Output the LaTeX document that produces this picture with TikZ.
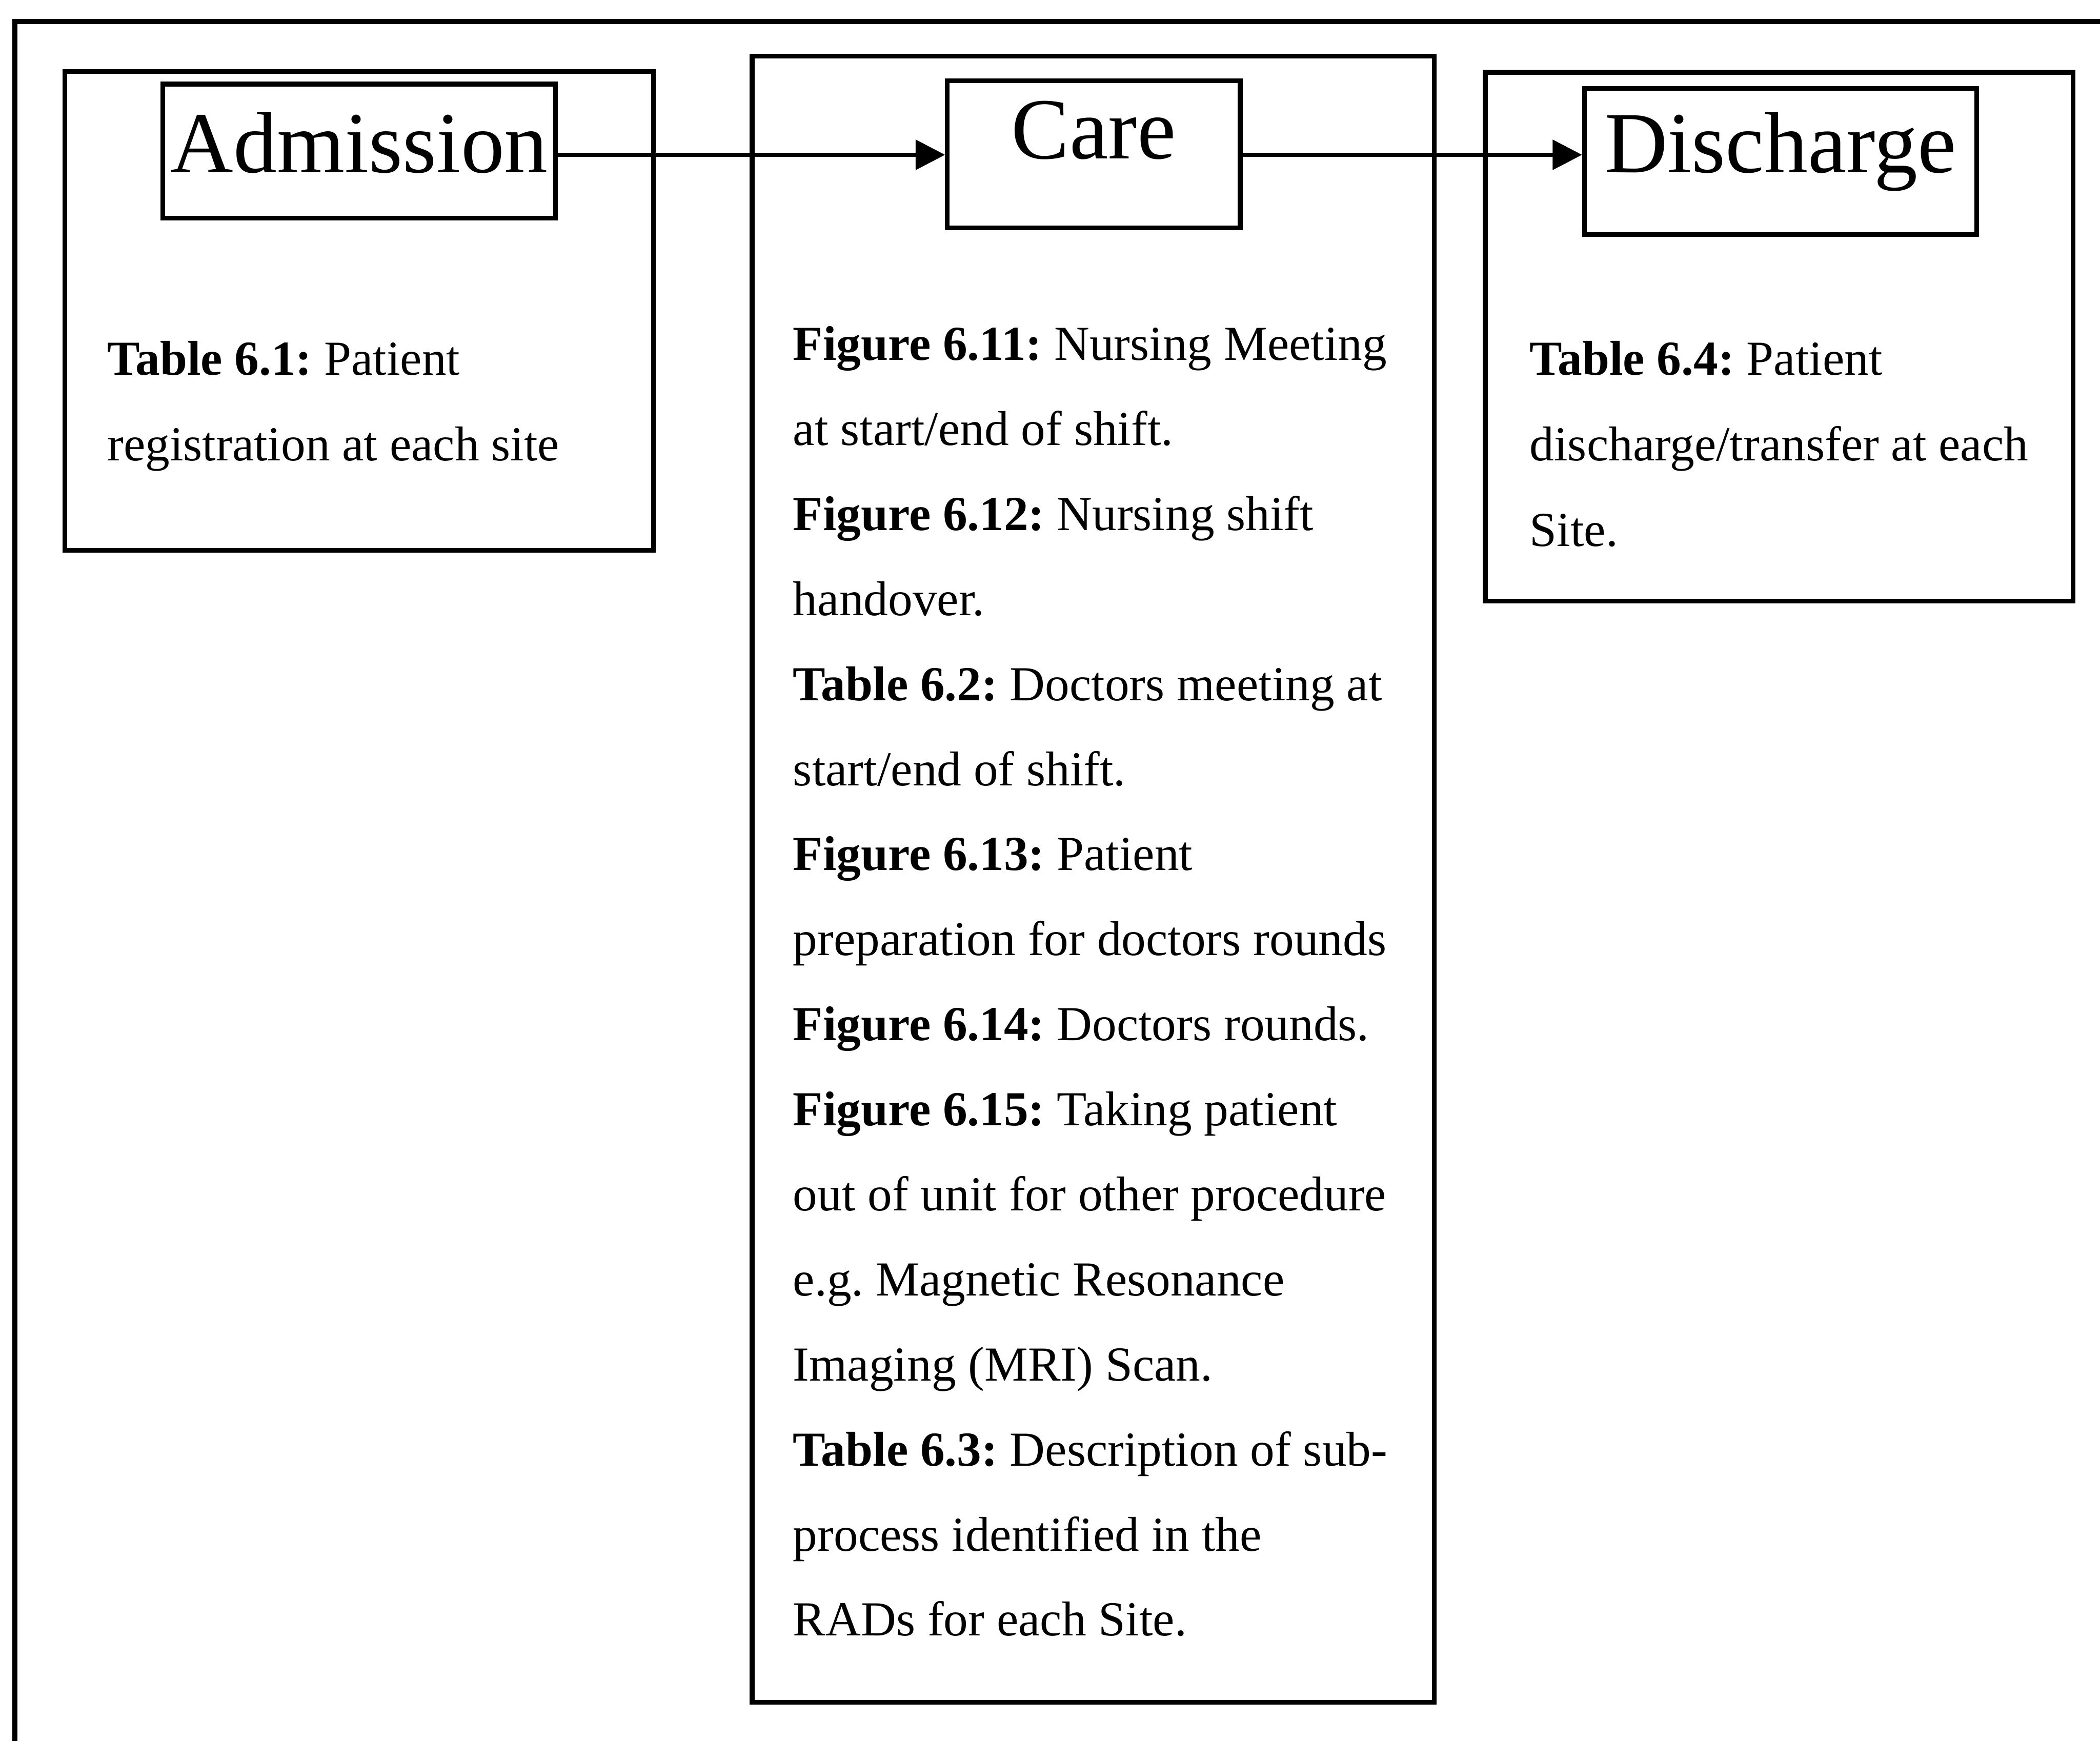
\documentclass[tikz,border=0pt]{standalone}
\usepackage{fontspec}
\setmainfont{Liberation Serif}
\usetikzlibrary{arrows.meta}
\frenchspacing
\begin{document}
\begin{tikzpicture}[x=1pt,y=-1pt,
  frame/.style={line width=4pt, line cap=rect},
  panel/.style={draw, rectangle, line width=3.5pt, inner sep=0pt},
  stagebox/.style={draw, rectangle, line width=3.5pt, inner sep=0pt},
  heading/.style={font=\fontsize{65}{78}\selectfont, inner sep=0pt, anchor=base},
  entry/.style={font=\fontsize{36.5}{44}\selectfont\frenchspacing, inner sep=0pt, anchor=base west},
  flow/.style={line width=3pt, -{Triangle[length=22pt,width=22pt]}}]

\useasboundingbox (0,0) rectangle (1568,1300);

% open outer frame (top and left edges)
\draw[frame] (1568,16) -- (11,16) -- (11,1300);

% the three stage panels
\node[panel, minimum width=439.6pt, minimum height=357.7pt] (admpanel) at (268.2,232.15) {};
\node[panel, minimum width=509.4pt, minimum height=1229pt] (carepanel) at (816.3,656.5) {};
\node[panel, minimum width=439pt, minimum height=395pt] (dispanel) at (1328.5,251.5) {};

% stage title boxes
\node[stagebox, minimum width=293.1pt, minimum height=100.2pt] (adm) at (268.25,112.9) {};
\node[stagebox, minimum width=218.6pt, minimum height=110pt] (care) at (816.7,115.3) {};
\node[stagebox, minimum width=293pt, minimum height=109pt] (dis) at (1329.5,120.5) {};

\node[heading] (admtitle) at (268.3,128.7) {Admission};
\node[heading] (caretitle) at (816.6,118.5) {Care};
\node[heading] (distitle) at (1329.4,129) {Discharge};

% flow between the stages
\coordinate (lane) at (0,115.6);
\draw[flow] (adm.east |- lane) -- (care.west |- lane);
\draw[flow] (care.east |- lane) -- (dis.west |- lane);

% admission references
\node[entry] (a1) at (80,280) {\textbf{Table 6.1:} Patient};
\node[entry] (a2) at (80,344) {registration at each site};

% care references
\node[entry] (c1) at (592,269) {\textbf{Figure 6.11:} Nursing Meeting};
\node[entry] (c2) at (592,332.5) {at start/end of shift.};
\node[entry] (c3) at (592,396) {\textbf{Figure 6.12:} Nursing shift};
\node[entry] (c4) at (592,459.5) {handover.};
\node[entry] (c5) at (592,523) {\textbf{Table 6.2:} Doctors meeting at};
\node[entry] (c6) at (592,586.5) {start/end of shift.};
\node[entry] (c7) at (592,650) {\textbf{Figure 6.13:} Patient};
\node[entry] (c8) at (592,713.5) {preparation for doctors rounds};
\node[entry] (c9) at (592,777) {\textbf{Figure 6.14:} Doctors rounds.};
\node[entry] (c10) at (592,840.5) {\textbf{Figure 6.15:} Taking patient};
\node[entry] (c11) at (592,904) {out of unit for other procedure};
\node[entry] (c12) at (592,967.5) {e.g. Magnetic Resonance};
\node[entry] (c13) at (592,1031) {Imaging (MRI) Scan.};
\node[entry] (c14) at (592,1094.5) {\textbf{Table 6.3:} Description of sub-};
\node[entry] (c15) at (592,1158) {process identified in the};
\node[entry] (c16) at (592,1221.5) {RADs for each Site.};

% discharge references
\node[entry] (d1) at (1142,280) {\textbf{Table 6.4:} Patient};
\node[entry] (d2) at (1142,344) {discharge/transfer at each};
\node[entry] (d3) at (1142,408) {Site.};
\end{tikzpicture}
\end{document}
